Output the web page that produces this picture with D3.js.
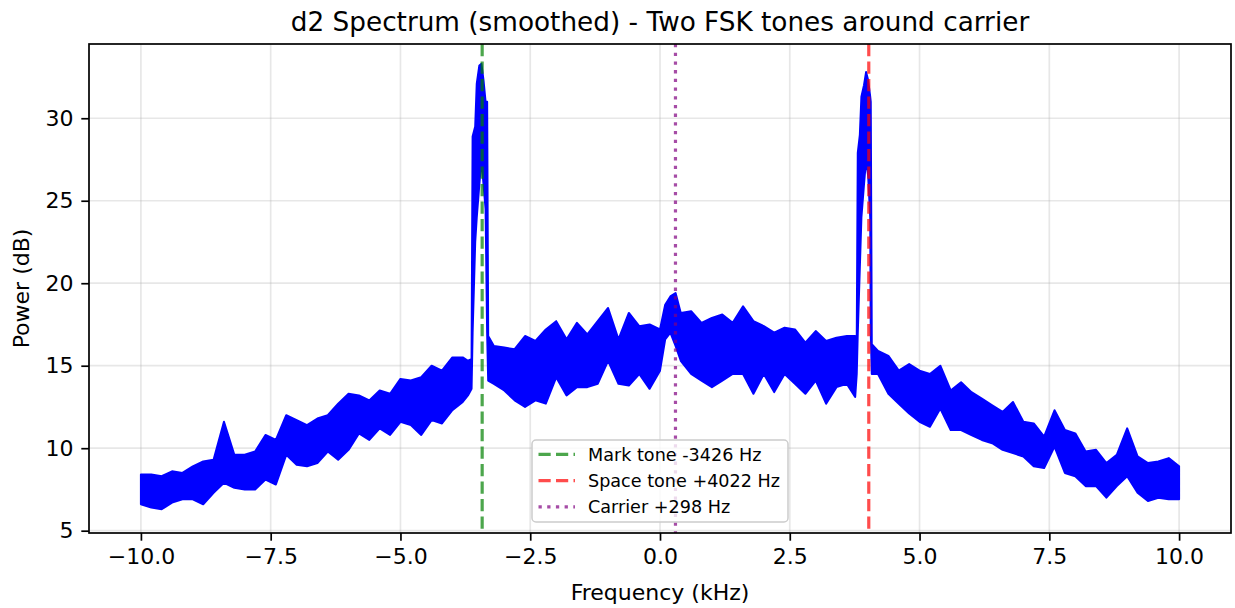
<!DOCTYPE html>
<html>
<head>
<meta charset="utf-8">
<script src="https://cdn.jsdelivr.net/npm/d3@7"></script>
<style>
  html, body { margin: 0; padding: 0; background: #fff; }
  svg { display: block; font-family: "DejaVu Sans", sans-serif; }
</style>
</head>
<body>
<svg id="chart" width="1235" height="608"></svg>
<script>
const freqKHz = [
  -10.0, -9.8, -9.6, -9.4, -9.2, -9.0, -8.8, -8.6, -8.4, -8.2, -8.0, -7.8, -7.6, -7.4, -7.2, -7.0,
  -6.8, -6.6, -6.4, -6.2, -6.0, -5.8, -5.6, -5.4, -5.2, -5.0, -4.8, -4.6, -4.4, -4.2, -4.0, -3.8,
  -3.7, -3.63, -3.61, -3.56, -3.53, -3.48, -3.44, -3.40, -3.36, -3.33, -3.31, -3.2, -3.0, -2.8,
  -2.6, -2.4, -2.2, -2.0, -1.8, -1.6, -1.4, -1.2, -1.0, -0.8, -0.6, -0.4, -0.2, 0.0, 0.1, 0.2,
  0.3, 0.4, 0.6, 0.8, 1.0, 1.2, 1.4, 1.6, 1.8, 2.0, 2.2, 2.4, 2.6, 2.8, 3.0, 3.2, 3.4, 3.6, 3.76,
  3.79, 3.81, 3.85, 3.88, 3.93, 3.97, 4.01, 4.05, 4.06, 4.08, 4.2, 4.4, 4.6, 4.8, 5.0, 5.2, 5.4,
  5.6, 5.8, 6.0, 6.2, 6.4, 6.6, 6.8, 7.0, 7.2, 7.4, 7.6, 7.8, 8.0, 8.2, 8.4, 8.6, 8.8, 9.0, 9.2,
  9.4, 9.6, 9.8, 10.0
];
const powerLo = [
  6.6, 6.4, 6.3, 6.7, 6.9, 6.9, 6.6, 7.3, 7.9, 7.6, 7.5, 7.5, 8.1, 7.8, 9.6, 9.0,
  8.9, 9.1, 9.8, 9.3, 9.9, 10.9, 10.5, 11.2, 10.8, 11.6, 11.4, 10.8, 11.7, 11.5, 12.3, 12.8,
  13.2, 13.6, 17.0, 22.5, 24.0, 26.0, 27.5, 26.0, 24.5, 17.0, 14.1, 13.9, 13.5, 12.9,
  12.5, 12.9, 12.7, 14.3, 13.2, 13.7, 13.7, 13.9, 15.3, 13.9, 13.8, 14.5, 13.6, 14.7, 16.6, 17.0,
  16.2, 15.3, 14.5, 14.1, 13.7, 14.1, 14.5, 14.5, 13.3, 14.5, 13.4, 14.5, 13.9, 13.3, 14.1, 12.7, 13.7, 13.9, 13.1,
  14.5, 17.0, 21.0, 24.0, 26.0, 27.5, 26.5, 24.0, 17.0, 14.5, 14.5, 13.3, 12.7, 12.1, 11.6, 11.3, 12.4,
  11.1, 11.1, 10.8, 10.5, 10.3, 9.9, 9.7, 9.5, 8.9, 8.8, 10.1, 8.5, 8.3, 7.7, 7.7, 7.0, 7.7, 8.3, 7.3,
  6.8, 7.0, 6.9, 6.9
];
const powerHi = [
  8.4, 8.4, 8.3, 8.6, 8.5, 8.9, 9.2, 9.3, 11.6, 9.6, 9.6, 9.8, 10.8, 10.5, 12.0, 11.7,
  11.4, 11.8, 12.0, 12.7, 13.3, 13.2, 12.9, 13.5, 13.3, 14.2, 14.1, 14.3, 15.0, 14.7, 15.5, 15.5,
  15.3, 15.4, 28.9, 29.5, 32.1, 33.2, 33.3, 32.3, 31.0, 31.0, 16.8, 16.2, 16.1, 16.0,
  16.8, 16.5, 17.2, 17.7, 16.6, 17.6, 16.9, 17.7, 18.5, 16.6, 18.2, 17.4, 17.5, 17.2, 18.7, 19.2,
  19.4, 18.2, 18.3, 17.6, 17.9, 18.1, 17.6, 18.6, 17.7, 17.4, 17.0, 17.3, 17.2, 16.4, 17.1, 16.5, 16.7, 16.8, 16.8,
  16.5, 27.9, 29.0, 31.3, 32.0, 32.8, 32.3, 31.3, 31.0, 16.3, 15.9, 15.6, 14.7, 15.1, 14.7, 14.5, 15.0,
  13.5, 14.0, 13.4, 13.0, 12.6, 12.2, 12.8, 11.6, 11.5, 10.7, 12.3, 11.1, 10.9, 9.8, 9.9, 9.1, 9.6, 11.2, 9.5,
  9.1, 9.2, 9.4, 8.9
];

// Marked frequencies (Hz)
const markHz = -3426;
const spaceHz = 4022;
const carrierHz = 298;

const xTicks = [-10, -7.5, -5, -2.5, 0, 2.5, 5, 7.5, 10];
const yTicks = [5, 10, 15, 20, 25, 30];

const W = 1235, H = 608;
const m = { top: 44, right: 4, bottom: 75, left: 89 };
const x0 = m.left, x1 = W - m.right, y0 = m.top, y1 = H - m.bottom;

const svg = d3.select("#chart");
const x = d3.scaleLinear().domain([-11, 11]).range([x0, x1]);
const y = d3.scaleLinear().domain([4.86, 34.5]).range([y1, y0]);

const minus = s => s.replace("-", "\u2212");

// grid
const grid = svg.append("g").attr("stroke", "#b0b0b0").attr("stroke-opacity", 0.3).attr("stroke-width", 1.7);
grid.selectAll("line.gx").data(xTicks).join("line")
  .attr("x1", d => x(d)).attr("x2", d => x(d)).attr("y1", y0).attr("y2", y1);
grid.selectAll("line.gy").data(yTicks).join("line")
  .attr("x1", x0).attr("x2", x1).attr("y1", d => y(d)).attr("y2", d => y(d));

svg.append("clipPath").attr("id", "plotclip")
  .append("rect").attr("x", x0).attr("y", y0).attr("width", x1 - x0).attr("height", y1 - y0);

const plot = svg.append("g").attr("clip-path", "url(#plotclip)");

const spec = freqKHz.map((f, i) => ({ f, lo: powerLo[i], hi: powerHi[i] }));

// noise band
plot.append("path").datum(spec)
  .attr("d", d3.area().x(d => x(d.f)).y0(d => y(d.lo)).y1(d => y(d.hi)))
  .attr("fill", "#0000ff").attr("stroke", "#0000ff").attr("stroke-width", 2).attr("stroke-linejoin", "round");

// tone markers
const markers = [
  { f: markHz / 1000, color: "#008000", dash: "12.2,5.3", label: "Mark tone -3426 Hz" },
  { f: spaceHz / 1000, color: "#ff0000", dash: "12.2,5.3", label: "Space tone +4022 Hz" },
  { f: carrierHz / 1000, color: "#800080", dash: "3.3,5.4", label: "Carrier +298 Hz" }
];
plot.selectAll("line.marker").data(markers).join("line")
  .attr("x1", d => x(d.f)).attr("x2", d => x(d.f)).attr("y1", y0).attr("y2", y1)
  .attr("stroke", d => d.color).attr("stroke-opacity", 0.7).attr("stroke-width", 3.2)
  .attr("stroke-dasharray", d => d.dash);

// spines
svg.append("rect").attr("x", x0).attr("y", y0).attr("width", x1 - x0).attr("height", y1 - y0)
  .attr("fill", "none").attr("stroke", "#000").attr("stroke-width", 1.7);

// x axis
const xa = svg.append("g").attr("transform", `translate(0,${y1})`)
  .call(d3.axisBottom(x).tickValues(xTicks).tickSize(7.7).tickPadding(7.7).tickFormat(d => minus(d3.format(".1f")(d))));
xa.select(".domain").remove();
xa.selectAll(".tick line").attr("stroke-width", 1.7);
xa.selectAll(".tick text").attr("font-size", "22px").attr("fill", "#000").attr("font-family", "DejaVu Sans");

// y axis
const ya = svg.append("g").attr("transform", `translate(${x0},0)`)
  .call(d3.axisLeft(y).tickValues(yTicks).tickSize(7.7).tickPadding(7.7).tickFormat(d3.format("d")));
ya.select(".domain").remove();
ya.selectAll(".tick line").attr("stroke-width", 1.7);
ya.selectAll(".tick text").attr("font-size", "22px").attr("fill", "#000").attr("font-family", "DejaVu Sans");

// labels
svg.append("text").attr("x", (x0 + x1) / 2).attr("y", 31).attr("text-anchor", "middle")
  .attr("font-size", "26.3px").text("d2 Spectrum (smoothed) - Two FSK tones around carrier");
svg.append("text").attr("x", (x0 + x1) / 2).attr("y", 600).attr("text-anchor", "middle")
  .attr("font-size", "22px").text("Frequency (kHz)");
svg.append("text").attr("transform", `translate(29,${(y0 + y1) / 2}) rotate(-90)`).attr("text-anchor", "middle")
  .attr("font-size", "22px").text("Power (dB)");

// legend
const lg = svg.append("g").attr("transform", "translate(532,440)");
lg.append("rect").attr("width", 256).attr("height", 82).attr("rx", 4)
  .attr("fill", "#fff").attr("fill-opacity", 0.8).attr("stroke", "#cccccc").attr("stroke-width", 1.5);
const rows = lg.selectAll("g.row").data(markers).join("g")
  .attr("transform", (d, i) => `translate(0,${14.3 + i * 26.3})`);
rows.append("line").attr("x1", 6.5).attr("x2", 43).attr("y1", 0).attr("y2", 0)
  .attr("stroke", d => d.color).attr("stroke-opacity", 0.7).attr("stroke-width", 3.2)
  .attr("stroke-dasharray", d => d.dash);
rows.append("text").attr("x", 56).attr("y", 0).attr("dy", "0.36em")
  .attr("font-size", "17.6px").attr("fill", "#000").text(d => d.label);
</script>
</body>
</html>
